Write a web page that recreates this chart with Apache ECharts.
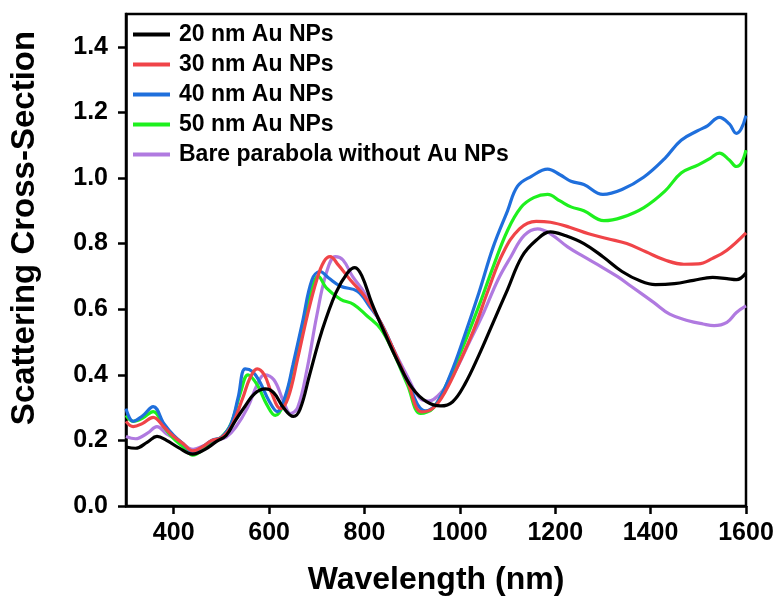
<!DOCTYPE html>
<html>
<head>
<meta charset="utf-8">
<script src="https://cdn.jsdelivr.net/npm/echarts@6/dist/echarts.min.js"></script>
<style>html,body{margin:0;padding:0;background:#fff}#c{width:780px;height:601px}</style>
</head>
<body>
<div id="c"></div>
<script>
const seriesNames = ['20 nm Au NPs','30 nm Au NPs','40 nm Au NPs','50 nm Au NPs','Bare parabola without Au NPs'];
const xTicks = [400,600,800,1000,1200,1400,1600];
const yTicks = [0,0.2,0.4,0.6,0.8,1.0,1.2,1.4];

const wl20 = [300,320,345,365,385,410,440,465,490,510,530,550,570,592,610,630,651,665,685,710,740,765,780,795,815,840,870,900,930,960,985,1010,1040,1070,1100,1130,1160,1190,1220,1260,1300,1340,1380,1410,1450,1490,1530,1560,1580,1600];
const v20  = [0.180,0.176,0.195,0.212,0.200,0.178,0.158,0.172,0.197,0.215,0.262,0.305,0.343,0.357,0.345,0.300,0.273,0.295,0.400,0.530,0.650,0.712,0.727,0.700,0.620,0.535,0.440,0.360,0.318,0.305,0.318,0.370,0.460,0.560,0.660,0.760,0.810,0.836,0.825,0.800,0.760,0.715,0.685,0.675,0.678,0.688,0.697,0.693,0.690,0.710];

const wl30 = [300,315,335,357,380,400,420,440,460,480,500,520,545,560,575,590,605,624,640,660,680,700,715,728,745,770,800,830,860,890,920,945,970,1000,1030,1060,1090,1125,1160,1190,1230,1270,1310,1350,1390,1430,1470,1500,1530,1560,1600];
const v30  = [0.258,0.242,0.252,0.270,0.240,0.212,0.190,0.168,0.180,0.200,0.208,0.240,0.330,0.390,0.418,0.400,0.345,0.297,0.330,0.450,0.580,0.690,0.745,0.760,0.735,0.690,0.640,0.570,0.480,0.380,0.287,0.300,0.350,0.440,0.540,0.660,0.770,0.845,0.868,0.865,0.850,0.830,0.815,0.800,0.775,0.750,0.737,0.738,0.755,0.780,0.833];

const wl40 = [300,315,335,357,380,400,420,440,460,480,500,520,535,550,565,580,600,617,635,650,670,690,707,725,750,785,810,834,860,890,928,950,980,1010,1040,1070,1100,1121,1150,1184,1210,1233,1260,1300,1340,1386,1430,1464,1500,1520,1544,1565,1580,1590,1600];
const v40  = [0.297,0.258,0.275,0.303,0.250,0.215,0.190,0.165,0.180,0.200,0.210,0.250,0.330,0.418,0.410,0.380,0.320,0.288,0.340,0.430,0.560,0.690,0.715,0.695,0.670,0.655,0.610,0.560,0.480,0.380,0.290,0.310,0.400,0.520,0.650,0.790,0.900,0.975,1.005,1.027,1.010,0.990,0.980,0.950,0.965,1.003,1.060,1.115,1.145,1.160,1.185,1.165,1.136,1.150,1.190];

const wl50 = [300,315,335,357,380,400,420,440,460,480,500,520,540,556,575,595,613,630,650,670,690,703,720,750,777,805,834,860,890,918,945,975,1005,1040,1070,1100,1128,1155,1184,1210,1233,1260,1302,1340,1386,1430,1464,1500,1525,1544,1565,1580,1590,1600];
const v50  = [0.276,0.258,0.268,0.288,0.240,0.205,0.180,0.155,0.170,0.198,0.210,0.250,0.345,0.400,0.370,0.310,0.276,0.310,0.420,0.550,0.665,0.700,0.665,0.630,0.615,0.580,0.540,0.470,0.370,0.282,0.300,0.380,0.480,0.610,0.730,0.840,0.910,0.940,0.950,0.930,0.912,0.900,0.870,0.880,0.910,0.960,1.015,1.040,1.060,1.076,1.055,1.035,1.045,1.085];

const wlBare = [300,320,345,365,385,410,441,465,490,510,530,555,575,590,610,630,645,660,680,700,720,739,755,775,800,830,860,890,915,934,960,990,1020,1050,1080,1107,1135,1163,1190,1226,1260,1296,1330,1359,1407,1440,1479,1510,1533,1560,1580,1600];
const vBare  = [0.212,0.205,0.222,0.242,0.220,0.200,0.173,0.185,0.200,0.210,0.240,0.300,0.370,0.400,0.385,0.320,0.282,0.300,0.420,0.580,0.710,0.760,0.750,0.700,0.650,0.570,0.480,0.395,0.330,0.320,0.345,0.410,0.500,0.590,0.690,0.760,0.825,0.845,0.830,0.790,0.760,0.730,0.700,0.670,0.620,0.585,0.565,0.555,0.550,0.560,0.590,0.610];

const colors = ['#000000','#f04448','#1f6fdc','#1ef01e','#b07ae0'];
const xs = [wl20, wl30, wl40, wl50, wlBare];
const ys = [v20, v30, v40, v50, vBare];

const FONT = '"Liberation Sans", Arial, Helvetica, sans-serif';
const chart = echarts.init(document.getElementById('c'), null, {renderer:'canvas'});
chart.setOption({
  animation: false,
  backgroundColor: '#ffffff',
  grid: {left: 125, right: 34, top: 14, bottom: 94, show: true, borderColor: '#000', borderWidth: 2.5, backgroundColor: 'transparent'},
  legend: {
    orient: 'vertical', left: 128, top: 18, itemWidth: 37, itemHeight: 4, itemGap: 7,
    padding: 5, icon: 'rect',
    textStyle: {fontFamily: FONT, fontWeight: 'bold', fontSize: 23, color: '#000', padding: [0,0,0,4]},
    data: seriesNames
  },
  xAxis: {
    type: 'value', min: 300, max: 1600,
    name: 'Wavelength (nm)', nameLocation: 'middle', nameGap: 58,
    nameTextStyle: {fontFamily: FONT, fontWeight: 'bold', fontSize: 32, color: '#000'},
    axisLine: {show: true, lineStyle: {color: '#000', width: 2.5}},
    axisTick: {show: true, inside: false, length: 8, lineStyle: {color: '#000', width: 2.5}, customValues: xTicks},
    axisLabel: {fontFamily: FONT, fontWeight: 'bold', fontSize: 25, color: '#000', margin: 15, customValues: xTicks,
      formatter: v => String(v)},
    splitLine: {show: false}
  },
  yAxis: {
    type: 'value', min: 0, max: 1.5,
    name: 'Scattering Cross-Section', nameLocation: 'middle', nameGap: 85, nameRotate: 90,
    nameTextStyle: {fontFamily: FONT, fontWeight: 'bold', fontSize: 33, color: '#000', padding: [0,0,0,64]},
    axisLine: {show: true, lineStyle: {color: '#000', width: 2.5}},
    axisTick: {show: true, inside: false, length: 8, lineStyle: {color: '#000', width: 2.5}, customValues: yTicks},
    axisLabel: {fontFamily: FONT, fontWeight: 'bold', fontSize: 25, color: '#000', margin: 18, customValues: yTicks,
      formatter: v => Number(v).toFixed(1)},
    splitLine: {show: false}
  },
  series: seriesNames.map((n, i) => ({
    name: n, type: 'line', symbol: 'none', smooth: 0.4,
    lineStyle: {color: colors[i], width: 3.2},
    itemStyle: {color: colors[i]},
    z: 10 - i,
    data: xs[i].map((x, j) => [x, ys[i][j]])
  }))
});
</script>
</body>
</html>
